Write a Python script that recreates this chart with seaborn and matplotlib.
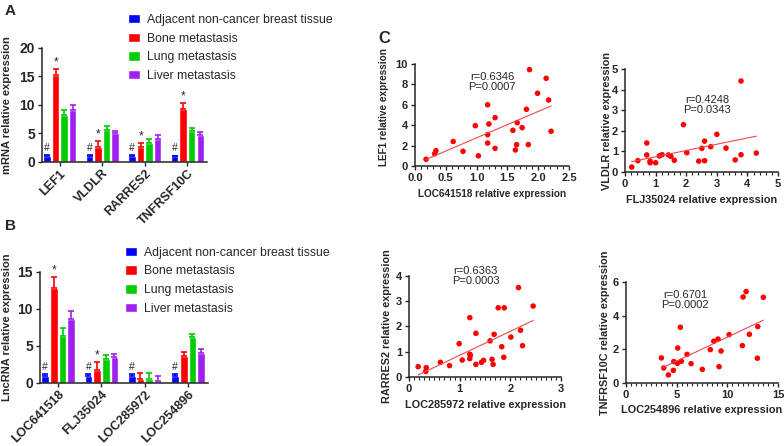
import numpy as np
import pandas as pd
import matplotlib
matplotlib.use("Agg")
import matplotlib.pyplot as plt
import seaborn as sns

sns.set_style("ticks")
plt.rcParams['font.family'] = ['Liberation Sans', 'DejaVu Sans']

# ---- bar chart data (panels A and B) ----
groups = ["Adjacent non-cancer breast tissue", "Bone metastasis",
          "Lung metastasis", "Liver metastasis"]
colors = ["#0000FF", "#FF0000", "#00CC00", "#A020F0"]

mrna_genes = ["LEF1", "VLDLR", "RARRES2", "TNFRSF10C"]
mrna_mean = [[1.0, 1.0, 1.0, 1.0],
             [15.2, 2.6, 2.7, 9.3],
             [8.2, 5.6, 3.3, 5.4],
             [9.1, 5.0, 4.1, 4.7]]
mrna_err = [[0.15, 0.15, 0.15, 0.12],
            [1.2, 1.0, 0.7, 1.0],
            [0.9, 0.7, 0.8, 0.5],
            [0.9, 0.5, 0.7, 0.6]]

lnc_genes = ["LOC641518", "FLJ35024", "LOC285972", "LOC254896"]
lnc_mean = [[1.0, 1.0, 1.0, 1.0],
            [12.9, 1.8, 0.6, 3.6],
            [6.4, 3.2, 0.6, 6.2],
            [8.7, 3.5, 0.3, 4.0]]
lnc_err = [[0.15, 0.15, 0.25, 0.15],
           [1.4, 1.0, 0.7, 0.6],
           [1.0, 0.6, 0.7, 0.4],
           [1.0, 0.4, 0.6, 0.6]]

# ---- scatter data (panel C) ----
c1_x = [0.18, 0.32, 0.34, 0.62, 0.78, 0.98, 1.03, 1.18, 1.18, 1.18, 1.20, 1.30, 1.30,
        1.59, 1.63, 1.65, 1.66, 1.74, 1.81, 1.84, 1.86, 1.99, 2.13, 2.17, 2.21]
c1_y = [0.66, 1.2, 1.5, 2.4, 1.44, 3.95, 1.0, 6.0, 3.07, 2.25, 4.12, 4.74, 1.73,
        3.5, 1.57, 2.09, 4.25, 3.76, 5.56, 2.1, 9.45, 7.13, 8.6, 6.47, 3.4]

c2_x = [0.22, 0.42, 0.71, 0.71, 0.82, 0.82, 1.0, 1.12, 1.21, 1.42, 1.50, 1.61, 1.91,
        2.02, 2.41, 2.51, 2.6, 2.6, 2.8, 3.0, 3.3, 3.6, 3.79, 3.79, 4.29]
c2_y = [0.24, 0.55, 1.41, 0.83, 0.53, 0.45, 0.45, 0.78, 0.84, 0.83, 0.76, 0.57, 2.3,
        0.94, 0.53, 1.15, 1.5, 0.55, 1.23, 1.83, 1.16, 0.59, 4.42, 0.84, 0.92]

c3_x = [0.18, 0.34, 0.33, 0.62, 0.80, 0.99, 1.05, 1.20, 1.20, 1.20, 1.21, 1.32, 1.32, 1.43,
        1.47, 1.60, 1.64, 1.66, 1.68, 1.76, 1.83, 1.87, 1.88, 2.01, 2.16, 2.20, 2.24, 2.45]
c3_y = [0.41, 0.37, 0.22, 0.58, 0.45, 1.32, 0.67, 2.35, 0.90, 0.73, 0.86, 1.73, 0.50, 0.58,
        0.66, 1.43, 0.70, 0.50, 1.69, 2.74, 1.2, 0.78, 2.74, 1.58, 3.54, 1.85, 1.24, 2.81]

c4_x = [3.49, 3.72, 4.18, 4.67, 4.71, 5.07, 5.10, 5.36, 5.46, 6.02, 6.42, 7.53, 8.32,
        8.66, 9.08, 9.18, 9.38, 10.17, 11.48, 11.55, 11.85, 12.17, 12.96, 13.0, 13.55]
c4_y = [1.49, 0.89, 0.48, 0.75, 1.27, 1.17, 2.08, 3.31, 1.29, 1.7, 1.15, 0.81, 1.98,
        2.48, 2.61, 0.97, 1.90, 2.87, 2.22, 5.11, 5.43, 2.89, 1.47, 3.35, 5.09]

fig = plt.figure(figsize=(7.84, 4.46), dpi=100)


def bar_panel(rect, genes, means, errs, ylabel, ymax, stars, legend_pos, ylab_x):
    ax = fig.add_axes(rect)
    rows = []
    for gi, grp in enumerate(groups):
        for ci, gene in enumerate(genes):
            rows.append((gene, grp, means[gi][ci]))
    df = pd.DataFrame(rows, columns=["gene", "group", "value"])
    sns.barplot(data=df, x="gene", y="value", hue="group", palette=colors,
                saturation=1, gap=0.12, errorbar=None, ax=ax)
    bar_conts = list(ax.containers)
    for gi, cont in enumerate(bar_conts):
        for ci, bar in enumerate(cont):
            xc = bar.get_x() + bar.get_width() / 2
            top = bar.get_height()
            e = errs[gi][ci]
            ax.errorbar(xc, top, yerr=[[0], [e]], color=colors[gi], lw=1.2,
                        capsize=2.2, capthick=1.2)
            if gi == 0:
                ax.text(xc, top + e + ymax * 0.02, "#", ha="center", va="bottom",
                        fontsize=7.5)
            if gi == 1 and stars[ci]:
                ax.text(xc, top + e + ymax * 0.005, "*", ha="center", va="bottom",
                        fontsize=8.5)
    ax.set_ylim(0, ymax)
    ax.set_xlim(-0.42, 3.46)
    ax.set_yticks(np.arange(0, ymax + 1, 5))
    ax.set_xlabel("")
    ax.set_ylabel(ylabel, fontsize=8, fontweight="bold")
    ax.yaxis.set_label_coords(ylab_x, 0.5)
    ax.set_xticks(range(len(genes)))
    ax.set_xticklabels(genes, rotation=45, ha="right", rotation_mode="anchor",
                       fontsize=9, fontweight="bold")
    for t in ax.get_yticklabels():
        t.set_fontweight("bold")
        t.set_fontsize(10)
    ax.tick_params(length=3, width=1, pad=2)
    ax.tick_params(axis="x", pad=1)
    for s in ["left", "bottom"]:
        ax.spines[s].set_linewidth(1.1)
    sns.despine(ax=ax)
    handles = [c.patches[0] for c in bar_conts]
    ax.legend(handles, groups, loc="upper left", bbox_to_anchor=legend_pos,
              bbox_transform=fig.transFigure, frameon=False, fontsize=8.8,
              handlelength=1.0, handleheight=0.8, handletextpad=0.6,
              labelspacing=0.55, borderpad=0, borderaxespad=0)
    return ax


bar_panel([0.0536, 0.6368, 0.2105, 0.2556], mrna_genes, mrna_mean, mrna_err,
          "mRNA relative expression", 20, [True, True, True, True], (0.163, 0.969),
          -0.18)
bar_panel([0.051, 0.1413, 0.2143, 0.2489], lnc_genes, lnc_mean, lnc_err,
          "LncRNA relative expression", 15, [True, True, False, False], (0.159, 0.447),
          -0.167)


def scatter_panel(rect, xs, ys, xlabel, ylabel, xlim, ylim, xmaj, xmin, ymaj,
                  txt, txt_pos, xfmt=None, ylab_y=0.5, ylab_x=-0.1, lab_fs=7.8):
    ax = fig.add_axes(rect)
    d = pd.DataFrame({"x": xs, "y": ys})
    sns.regplot(data=d, x="x", y="y", scatter=False, ci=None, truncate=True,
                line_kws=dict(color="#F04848", lw=0.8), ax=ax)
    sns.scatterplot(data=d, x="x", y="y", color="#FF0000", s=16,
                    edgecolor="none", ax=ax, clip_on=False)
    ax.set_xlim(*xlim)
    ax.set_ylim(*ylim)
    ax.set_xticks(np.arange(xlim[0], xlim[1] + 1e-9, xmaj))
    ax.set_xticks(np.arange(xlim[0], xlim[1] + 1e-9, xmin), minor=True)
    ax.set_yticks(np.arange(ylim[0], ylim[1] + 1e-9, ymaj))
    if xfmt:
        ax.set_xticklabels([xfmt.format(v) for v in ax.get_xticks()])
    else:
        ax.set_xticklabels([f"{v:g}" for v in ax.get_xticks()])
    ax.set_yticklabels([f"{v:g}" for v in ax.get_yticks()])
    for t in ax.get_xticklabels() + ax.get_yticklabels():
        t.set_fontweight("bold")
        t.set_fontsize(8)
    ax.set_xlabel(xlabel, fontsize=lab_fs, fontweight="bold")
    ax.set_ylabel(ylabel, fontsize=lab_fs, fontweight="bold")
    ax.yaxis.set_label_coords(ylab_x, ylab_y)
    ax.tick_params(which="major", length=3, width=1, pad=2)
    ax.tick_params(which="minor", length=1.8, width=0.8)
    for s in ["left", "bottom"]:
        ax.spines[s].set_linewidth(1.1)
    sns.despine(ax=ax)
    ax.text(txt_pos[0], txt_pos[1], txt, transform=ax.transAxes, ha="center",
            va="center", fontsize=8, linespacing=1.0, clip_on=False)
    return ax


scatter_panel([0.5293, 0.6278, 0.1964, 0.2287], c1_x, c1_y,
              "LOC641518 relative expression", "LEF1 relative expression",
              (0, 2.5), (0, 10), 0.5, 0.1, 2, "r=0.6346\nP=0.0007", (0.5, 0.82),
              xfmt="{:.1f}", ylab_y=0.58, ylab_x=-0.17, lab_fs=7.2)
scatter_panel([0.7972, 0.6143, 0.1952, 0.2309], c2_x, c2_y,
              "FLJ35024 relative expression", "VLDLR relative expression",
              (0, 5), (0, 5), 1, 0.2, 1, "r=0.4248\nP=0.0343", (0.536, 0.65),
              ylab_x=-0.085)
scatter_panel([0.5217, 0.1547, 0.1939, 0.2265], c3_x, c3_y,
              "LOC285972 relative expression", "RARRES2 relative expression",
              (0, 3), (0, 4), 1, 0.1, 1, "r=0.6363\nP=0.0003", (0.44, 0.995),
              ylab_x=-0.11)
scatter_panel([0.7985, 0.1413, 0.1939, 0.2265], c4_x, c4_y,
              "LOC254896 relative expression", "TNFRSF10C relative expression",
              (0, 15), (0, 6), 5, 0.5, 2, "r=0.6701\nP=0.0002", (0.39, 0.82),
              ylab_x=-0.105)

fig.text(0.006, 0.992, "A", fontsize=11, fontweight="bold", va="top")
fig.text(0.006, 0.51, "B", fontsize=11, fontweight="bold", va="top")
fig.text(0.483, 0.93, "C", fontsize=12, fontweight="bold", va="top")

fig.savefig("out.png", dpi=100)
